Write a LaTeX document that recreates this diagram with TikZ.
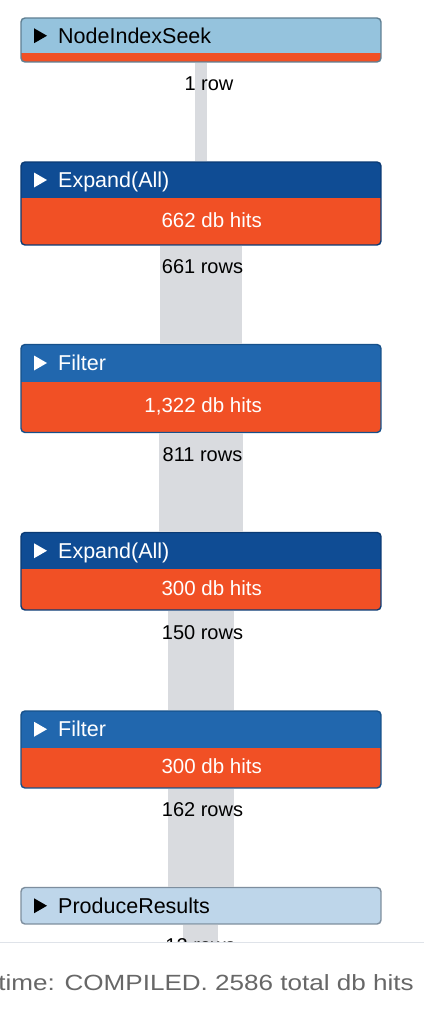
\documentclass[tikz,border=0pt]{standalone}
\usepackage{fontspec}
\setmainfont{Liberation Sans}
\usepackage{graphicx}
\definecolor{hitorange}{HTML}{F15025}
\definecolor{seekblue}{HTML}{95C3DD}
\definecolor{seekborder}{HTML}{5F7F92}
\definecolor{expblue}{HTML}{0F4C94}
\definecolor{expborder}{HTML}{0A3A74}
\definecolor{filtblue}{HTML}{2167AE}
\definecolor{filtborder}{HTML}{16508A}
\definecolor{prodblue}{HTML}{BED6EA}
\definecolor{prodborder}{HTML}{7D8E9E}
\definecolor{pipegray}{HTML}{D9DBDF}
\definecolor{footline}{HTML}{DFE3E9}
\definecolor{foottext}{HTML}{676767}
\tikzset{
  boxshape/.style={inner sep=0, outer sep=0, minimum width=360},
  pipe/.style={pipegray, line cap=butt},
  titletext/.style={inner sep=0, anchor=base west, font=\fontsize{21.5}{24}\selectfont},
  hitstext/.style={inner sep=0, anchor=base east, text=white, font=\fontsize{20.5}{24}\selectfont},
  rowtext/.style={inner sep=0, anchor=base, font=\fontsize{20}{24}\selectfont},
}
% #1 name, #2 top, #3 header bottom, #4 bottom, #5 header color, #6 border color, #7 title color, #8 title, #9 hits
\newcommand\planbox[9]{%
  \node[boxshape, minimum height={#4-#2}] (#1) at (201,{-(#2+#4)/2}) {};
  \begin{scope}
    \clip[rounded corners=4] (#1.north west) rectangle (#1.south east);
    \fill[hitorange] (#1.north west) rectangle (#1.south east);
    \fill[#5] (#1.north west) rectangle (381,-#3);
  \end{scope}
  \draw[#6, line width=1.4, rounded corners=4] (#1.north west) rectangle (#1.south east);
  \fill[#7] (34,{-(#2+#3)/2+7.5}) -- (47,{-(#2+#3)/2}) -- (34,{-(#2+#3)/2-7.5}) -- cycle;
  \node[titletext, text=#7] (#1t) at (58,{-(#2+#3)/2-7.7}) {#8};
  \node[hitstext] (#1h) at (262,{-(#3+#4)/2-5.5}) {#9};
}
\begin{document}
\begin{tikzpicture}[x=1pt,y=1pt]
\useasboundingbox (0,0) rectangle (424,-1014);
\fill[white] (0,0) rectangle (424,-1014);
\planbox{b1}{18}{53.5}{62}{seekblue}{seekborder}{black}{NodeIndexSeek}{}
\planbox{b2}{162}{198}{245}{expblue}{expborder}{white}{Expand(All)}{662 db hits}
\planbox{b3}{344.5}{381.5}{432.5}{filtblue}{filtborder}{white}{Filter}{1,322 db hits}
\planbox{b4}{532.5}{569}{610}{expblue}{expborder}{white}{Expand(All)}{300 db hits}
\planbox{b5}{711}{747.5}{788}{filtblue}{filtborder}{white}{Filter}{300 db hits}
\planbox{b6}{887.5}{924}{924}{prodblue}{prodborder}{black}{ProduceResults}{}
\coordinate (pend) at (201,-942);
% pipes between boxes
\draw[pipe, line width=12] ([yshift=-0.7]b1.south) -- ([yshift=0.7]b2.north);
\draw[pipe, line width=82] ([yshift=-0.7]b2.south) -- ([yshift=0.7]b3.north);
\draw[pipe, line width=84] ([yshift=-0.7]b3.south) -- ([yshift=0.7]b4.north);
\draw[pipe, line width=66] ([yshift=-0.7]b4.south) -- ([yshift=0.7]b5.north);
\draw[pipe, line width=66] ([yshift=-0.7]b5.south) -- ([yshift=0.7]b6.north);
\draw[pipe, line width=35] ([xshift=-0.5,yshift=-0.7]b6.south) -- ([xshift=-0.5]pend);
% row labels
\node[rowtext] (r1) at (209,-90.5) {1 row};
\node[rowtext] (r2) at (202.5,-273.5) {661 rows};
\node[rowtext] (r3) at (202.5,-461) {811 rows};
\node[rowtext] (r4) at (202.5,-639) {150 rows};
\node[rowtext] (r5) at (202.5,-816) {162 rows};
\node[rowtext] (r6) at (200.5,-952) {12 rows};
% footer
\fill[white] (0,-942) rectangle (424,-1014);
\draw[footline, line width=1.5] (0,-942.5) -- (424,-942.5);
\node[inner sep=0, anchor=base east, text=foottext, font=\fontsize{22}{24}\selectfont] (foot) at (414,-990.5) {\scalebox{1.185}[1]{time: COMPILED. 2586 total db hits}};
\end{tikzpicture}
\end{document}
